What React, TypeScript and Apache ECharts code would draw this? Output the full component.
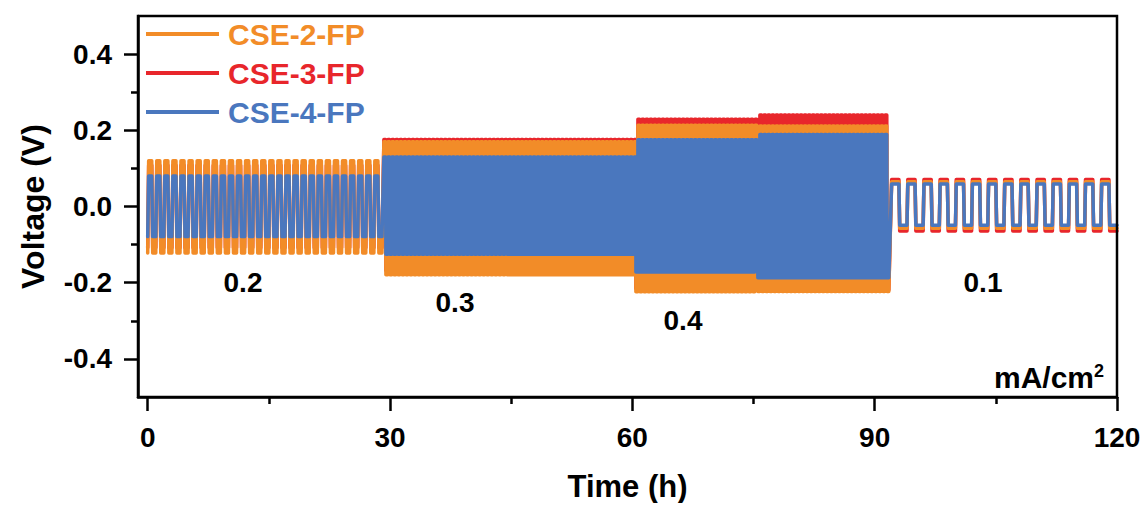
import React, { useEffect, useRef } from 'react';
import * as echarts from 'echarts';

const SERIES_NAMES = ['CSE-2-FP', 'CSE-3-FP', 'CSE-4-FP'];
const SERIES_COLORS = ['#F28C28', '#E8262B', '#4A77BE'];

// cycling blocks (h), half-cycle duration (h) and polarity switch duration (h)
const BLOCK_START = [0, 29.2, 60.4, 75.5, 92.0];
const BLOCK_END = [29.2, 60.4, 75.5, 91.8, 120];
const HALF_PERIOD = [0.5, 0.25, 0.25, 0.25, 1.0];
const SWITCH_TIME = [0.12, 0.04, 0.04, 0.04, 0.1];

// plateau voltages (V) per block
const CSE2_UPPER = [0.12, 0.17, 0.213, 0.211, 0.065];
const CSE2_LOWER = [-0.122, -0.179, -0.224, -0.223, -0.057];
const CSE3_UPPER = [0.108, 0.176, 0.229, 0.24, 0.071];
const CSE3_LOWER = [-0.108, -0.168, -0.215, -0.219, -0.064];
const CSE4_UPPER = [0.08, 0.13, 0.175, 0.189, 0.059];
const CSE4_LOWER = [-0.079, -0.125, -0.172, -0.187, -0.049];

const X_TICKS = [0, 30, 60, 90, 120];
const X_MINOR = [15, 45, 75, 105];
const Y_TICKS = [-0.4, -0.2, 0, 0.2, 0.4];
const Y_MINOR = [-0.3, -0.1, 0.1, 0.3];

const CURRENT_LABELS = ['0.2', '0.3', '0.4', '0.1'];
const UNIT_BASE = 'mA/cm';
const UNIT_POWER = '2';

const FONT = '"Liberation Sans", Arial, sans-serif';

function buildWave(upper: number[], lower: number[]) {
  const pts: number[][] = [[BLOCK_START[0], lower[0]]];
  let high = false;
  for (let b = 0; b < BLOCK_START.length; b++) {
    const h = HALF_PERIOD[b];
    const s = SWITCH_TIME[b];
    const n = Math.round((BLOCK_END[b] - BLOCK_START[b]) / h);
    for (let k = 0; k < n; k++) {
      const t0 = BLOCK_START[b] + k * h;
      high = !high;
      const v = high ? upper[b] : lower[b];
      pts.push([+(t0 + s).toFixed(3), v], [+(t0 + h).toFixed(3), v]);
    }
  }
  return pts;
}

export default function App() {
  const ref = useRef<HTMLDivElement>(null);
  useEffect(() => {
    if (!ref.current) return;
    const chart = echarts.init(ref.current, null, { renderer: 'svg' });
    const waves = [
      buildWave(CSE2_UPPER, CSE2_LOWER),
      buildWave(CSE3_UPPER, CSE3_LOWER),
      buildWave(CSE4_UPPER, CSE4_LOWER),
    ];
    const drawOrder = [1, 0, 2];
    const annText = (text: string, x: number, y: number) => ({
      type: 'text',
      x,
      y,
      z: 100,
      style: {
        text,
        fill: '#000',
        fontFamily: FONT,
        fontWeight: 'bold',
        fontSize: 28,
        align: 'center',
        verticalAlign: 'middle',
      },
    });
    const legendText = {
      fontFamily: FONT,
      fontWeight: 'bold' as const,
      fontSize: 30,
      lineHeight: 28,
      padding: [0, 0, 0, 4],
    };
    chart.setOption({
      animation: false,
      backgroundColor: '#fff',
      grid: {
        left: 130,
        right: 23,
        top: 8,
        bottom: 106,
        outerBoundsMode: 'none',
        containLabel: false,
        show: true,
        borderColor: '#000',
        borderWidth: 2.5,
        backgroundColor: 'transparent',
        z: 10,
      },
      legend: {
        left: 138,
        top: 11,
        padding: 0,
        orient: 'vertical',
        itemWidth: 73,
        itemHeight: 4,
        itemGap: 9,
        icon: 'rect',
        data: SERIES_NAMES.map((n, i) => ({
          name: n,
          textStyle: { ...legendText, color: SERIES_COLORS[i] },
        })),
        textStyle: legendText,
      },
      xAxis: [
        {
          type: 'value',
          min: -1.2,
          max: 120,
          axisLine: { show: true, onZero: false, lineStyle: { color: '#000', width: 2.5 } },
          axisTick: {
            show: true,
            inside: false,
            length: 14,
            customValues: X_TICKS,
            lineStyle: { color: '#000', width: 2.5 },
          },
          axisLabel: {
            customValues: X_TICKS,
            color: '#000',
            fontFamily: FONT,
            fontWeight: 'bold',
            fontSize: 28,
            margin: 26,
          },
          splitLine: { show: false },
          name: 'Time (h)',
          nameLocation: 'middle',
          nameGap: 74,
          nameTextStyle: {
            color: '#000',
            fontFamily: FONT,
            fontWeight: 'bold',
            fontSize: 31,
            lineHeight: 31,
          },
        },
        {
          type: 'value',
          min: -1.2,
          max: 120,
          position: 'bottom',
          axisLine: { show: false, onZero: false },
          axisTick: {
            show: true,
            length: 7,
            customValues: X_MINOR,
            lineStyle: { color: '#000', width: 2.5 },
          },
          axisLabel: { show: false },
          splitLine: { show: false },
        },
      ],
      yAxis: [
        {
          type: 'value',
          min: -0.5,
          max: 0.5,
          axisLine: { show: true, onZero: false, lineStyle: { color: '#000', width: 2.5 } },
          axisTick: {
            show: true,
            inside: false,
            length: 14,
            customValues: Y_TICKS,
            lineStyle: { color: '#000', width: 2.5 },
          },
          axisLabel: {
            customValues: Y_TICKS,
            formatter: (v: number) => v.toFixed(1),
            color: '#000',
            fontFamily: FONT,
            fontWeight: 'bold',
            fontSize: 28,
            margin: 26,
          },
          splitLine: { show: false },
          name: 'Voltage (V)',
          nameLocation: 'middle',
          nameGap: 89,
          nameTextStyle: {
            color: '#000',
            fontFamily: FONT,
            fontWeight: 'bold',
            fontSize: 32,
          },
        },
        {
          type: 'value',
          min: -0.5,
          max: 0.5,
          position: 'left',
          axisLine: { show: false, onZero: false },
          axisTick: {
            show: true,
            length: 7,
            customValues: Y_MINOR,
            lineStyle: { color: '#000', width: 2.5 },
          },
          axisLabel: { show: false },
          splitLine: { show: false },
        },
      ],
      series: drawOrder.map((i) => ({
        name: SERIES_NAMES[i],
        type: 'line',
        data: waves[i],
        showSymbol: false,
        symbol: 'none',
        color: SERIES_COLORS[i],
        lineStyle: { color: SERIES_COLORS[i], width: 3.5, cap: 'round', join: 'round' },
        z: 2 + drawOrder.indexOf(i),
        silent: true,
      })),
      graphic: [
        annText(CURRENT_LABELS[0], 235, 274),
        annText(CURRENT_LABELS[1], 447, 294),
        annText(CURRENT_LABELS[2], 675, 312),
        annText(CURRENT_LABELS[3], 975, 274),
        {
          type: 'text',
          x: 1096,
          y: 369,
          z: 100,
          style: {
            text: `{b|${UNIT_BASE}}{s|${UNIT_POWER}}`,
            align: 'right',
            verticalAlign: 'middle',
            rich: {
              b: {
                fill: '#000',
                fontFamily: FONT,
                fontWeight: 'bold',
                fontSize: 30,
                lineHeight: 30,
                verticalAlign: 'bottom',
              },
              s: {
                fill: '#000',
                fontFamily: FONT,
                fontWeight: 'bold',
                fontSize: 18,
                lineHeight: 18,
                verticalAlign: 'top',
              },
            },
          },
        },
      ],
    });
    return () => chart.dispose();
  }, []);
  return <div ref={ref} style={{ width: 1132, height: 495 }} />;
}
